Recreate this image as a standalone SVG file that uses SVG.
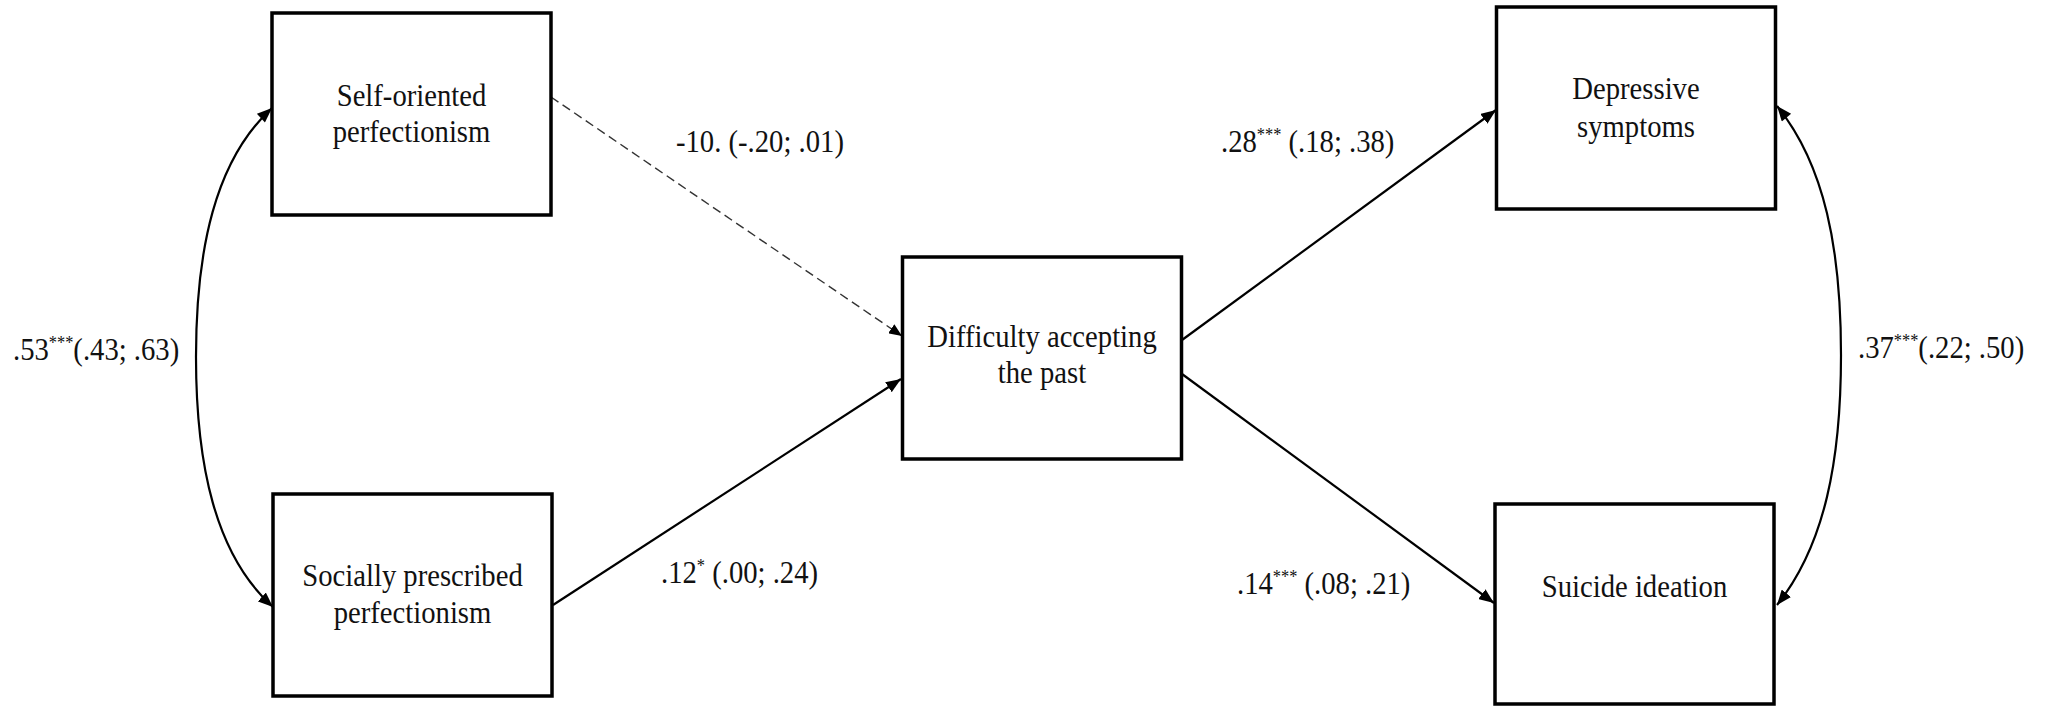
<svg xmlns="http://www.w3.org/2000/svg" width="2046" height="706" viewBox="0 0 2046 706">
  <style>
    .box { fill: #ffffff; stroke: #000000; stroke-width: 3.5; }
    .label { font-family: "Liberation Serif", "Times New Roman", serif; font-size: 31.5px; fill: #111111; }
    .node-text { text-anchor: middle; }
    .path { fill: none; stroke: #000000; stroke-width: 2.2; }
    .dashed { fill: none; stroke: #333333; stroke-width: 1.4; stroke-dasharray: 9 5; }
    .sup { font-size: 18px; }
  </style>
  <defs>
    <marker id="arrow" markerUnits="userSpaceOnUse" markerWidth="16" markerHeight="12" refX="15" refY="6" orient="auto">
      <path d="M0,0 L15,6 L0,12 z" fill="#000000"/>
    </marker>
    <marker id="arrow-start" markerUnits="userSpaceOnUse" markerWidth="16" markerHeight="12" refX="0" refY="6" orient="auto">
      <path d="M15,0 L0,6 L15,12 z" fill="#000000"/>
    </marker>
    <marker id="arrow-small" markerUnits="userSpaceOnUse" markerWidth="14" markerHeight="11" refX="13" refY="5.5" orient="auto">
      <path d="M0,0 L13,5.5 L0,11 z" fill="#000000"/>
    </marker>
  </defs>

  <rect width="2046" height="706" fill="#ffffff"/>

  <!-- connectors -->
  <g id="connectors">
    <path class="dashed" d="M551,97 L902,336" marker-end="url(#arrow-small)"/>
    <path class="path" d="M553,605 L901,379" marker-end="url(#arrow)"/>
    <path class="path" d="M1182,340 L1496,110" marker-end="url(#arrow)"/>
    <path class="path" d="M1182,374 L1494,603" marker-end="url(#arrow)"/>
    <!-- covariance between the two perfectionism dimensions -->
    <path class="path" d="M272,108 C215,160 196,250 196,357 C196,464 215,555 273,607" marker-start="url(#arrow-start)" marker-end="url(#arrow)"/>
    <!-- covariance between the two outcomes -->
    <path class="path" d="M1777,106 C1825,165 1841,250 1841,355 C1841,460 1825,545 1777,605" marker-start="url(#arrow-start)" marker-end="url(#arrow)"/>
  </g>

  <!-- path coefficients (type is set slightly condensed) -->
  <g id="coefficients" class="label">
    <text transform="translate(13 360) scale(0.91 1)">.53<tspan class="sup" dy="-11">***</tspan><tspan dy="11">(.43; .63)</tspan></text>
    <text transform="translate(676 152) scale(0.91 1)">-10. (-.20; .01)</text>
    <text transform="translate(661 583) scale(0.91 1)">.12<tspan class="sup" dy="-11">*</tspan><tspan dy="11"> (.00; .24)</tspan></text>
    <text transform="translate(1221 152) scale(0.91 1)">.28<tspan class="sup" dy="-11">***</tspan><tspan dy="11"> (.18; .38)</tspan></text>
    <text transform="translate(1237 594) scale(0.91 1)">.14<tspan class="sup" dy="-11">***</tspan><tspan dy="11"> (.08; .21)</tspan></text>
    <text transform="translate(1858 358) scale(0.91 1)">.37<tspan class="sup" dy="-11">***</tspan><tspan dy="11">(.22; .50)</tspan></text>
  </g>

  <g id="self-oriented">
    <rect class="box" x="272" y="13" width="279" height="202"/>
    <text class="label node-text" transform="translate(411.5 106) scale(0.91 1)">Self-oriented</text>
    <text class="label node-text" transform="translate(411.5 142) scale(0.91 1)">perfectionism</text>
  </g>

  <g id="socially-prescribed">
    <rect class="box" x="273" y="494" width="279" height="202"/>
    <text class="label node-text" transform="translate(412.5 586) scale(0.91 1)">Socially prescribed</text>
    <text class="label node-text" transform="translate(412.5 623) scale(0.91 1)">perfectionism</text>
  </g>

  <g id="difficulty-accepting">
    <rect class="box" x="902.5" y="257" width="279" height="202"/>
    <text class="label node-text" transform="translate(1042 347) scale(0.91 1)">Difficulty accepting</text>
    <text class="label node-text" transform="translate(1042 383) scale(0.91 1)">the past</text>
  </g>

  <g id="depressive-symptoms">
    <rect class="box" x="1496.5" y="7" width="279" height="202"/>
    <text class="label node-text" transform="translate(1636 99) scale(0.91 1)">Depressive</text>
    <text class="label node-text" transform="translate(1636 137) scale(0.91 1)">symptoms</text>
  </g>

  <g id="suicide-ideation">
    <rect class="box" x="1495" y="504" width="279" height="200"/>
    <text class="label node-text" transform="translate(1634.5 597) scale(0.91 1)">Suicide ideation</text>
  </g>
</svg>
